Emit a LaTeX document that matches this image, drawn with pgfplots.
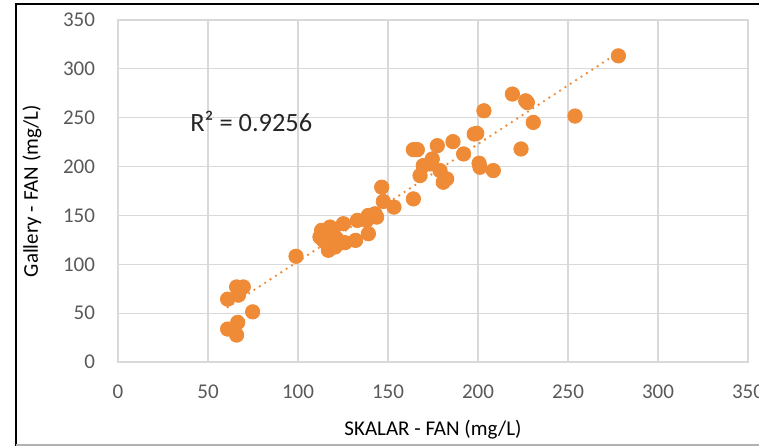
\documentclass[border=0pt]{standalone}
\usepackage{fontspec}
\setmainfont{Carlito}
\usepackage{pgfplots}
\usepackage{pgfplotstable}
\pgfplotsset{compat=1.18}
\usetikzlibrary{calc}

\definecolor{xlorange}{HTML}{EF8A36}
\definecolor{xltext}{HTML}{595959}
\definecolor{xlgrid}{HTML}{D9D9D9}

% SKALAR vs Gallery FAN, sorted by x
\pgfplotstableread{
x y
60.9 64.3
60.9 33.7
65.9 76.8
65.9 27.6
66.5 40.5
66.9 68.4
67.8 73.5
69.6 76.8
74.8 51.3
98.9 108.2
112.2 127.9
113.1 134.7
114.1 124.5
115.9 121.1
116.9 114.3
117.8 138.1
119.6 131.3
120.6 117.7
121.5 126.2
125.2 141.5
126.1 122.1
132.0 124.5
133.0 144.9
138.1 144.9
139.1 150.0
139.1 131.3
142.8 151.7
143.7 148.3
146.5 178.9
147.4 164.3
153.3 158.5
164.1 217.3
164.1 166.9
166.3 217.3
167.8 190.8
169.6 201.0
173.3 202.7
174.6 207.8
177.4 221.4
178.9 195.9
180.7 184.0
182.6 187.4
186.1 225.5
192.0 212.9
197.9 233.3
199.3 234.0
200.6 203.4
201.1 199.3
203.3 257.1
208.5 195.9
219.1 274.2
223.9 218.0
226.5 267.3
227.4 265.5
230.7 245.2
253.9 251.7
278.0 313.3
}\fandata

\begin{document}
\begin{tikzpicture}
\begin{axis}[
    name=ax,
    scale only axis,
    width=315bp,
    height=171bp,
    xmin=0, xmax=350,
    ymin=0, ymax=350,
    xtick distance=50,
    ytick distance=50,
    grid=major,
    grid style={xlgrid, line width=0.6bp},
    axis line style={xlgrid, line width=0.6bp},
    tick style={draw=none},
    font=\fontsize{10.5bp}{12bp}\selectfont,
    /pgf/number format/assume math mode=true,
    ticklabel style={text=xltext},
    xticklabel style={anchor=center, yshift=-15bp},
    yticklabel style={anchor=east, xshift=-8bp},
    xlabel={SKALAR - FAN (mg/L)},
    ylabel={Gallery - FAN (mg/L)},
    label style={text=xltext},
    every axis x label/.style={at={(rel axis cs:0.5,-0.199)}, anchor=center},
    every axis y label/.style={at={(rel axis cs:-0.1365,0.5)}, anchor=center, rotate=90},
    clip=false,
]
\addplot[only marks, mark=*, mark size=3.6bp,
         mark options={fill=xlorange, draw=xlorange}]
    table[x=x, y=y] {\fandata};
\addplot[xlorange, line width=1.3bp, line cap=round,
         dash pattern=on 0bp off 3.2bp, no marks]
    table[x=x, y={create col/linear regression={y=y}}] {\fandata};
\node[anchor=west, inner sep=0pt, text=black!85, font=\fontsize{13.2bp}{15bp}\selectfont]
    at (axis cs:40,246) {R² = 0.9256};
\end{axis}
\pgfresetboundingbox
\path[use as bounding box] ($(ax.south west)+(-59bp,-42bp)$) rectangle ($(ax.north east)+(5.5bp,10bp)$);
\draw[black, line width=1.2bp] ($(ax.south west)+(-51bp,-42bp)$) -- ($(ax.north west)+(-51bp,8bp)$) -- ($(ax.north east)+(5.5bp,8bp)$);
\draw[gray!60, line width=0.6bp] ($(ax.south west)+(-51bp,-41.5bp)$) -- ($(ax.south east)+(5.5bp,-41.5bp)$);
\end{tikzpicture}
\end{document}
